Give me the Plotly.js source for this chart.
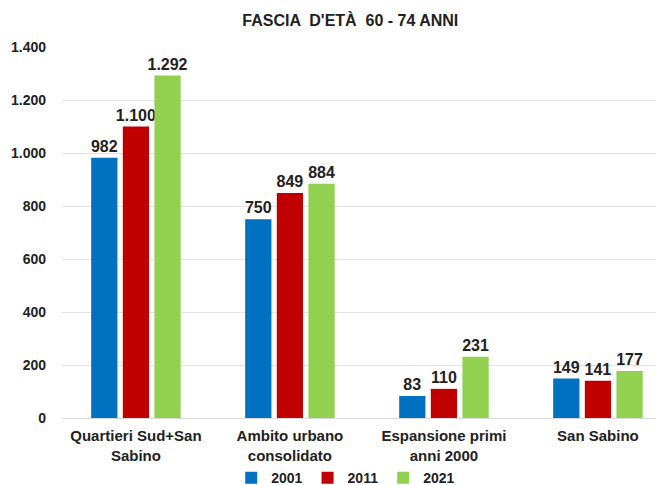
<!DOCTYPE html>
<html><head><meta charset="utf-8">
<script src="https://cdn.plot.ly/plotly-3.0.1.min.js"></script>
<style>html,body{margin:0;padding:0;background:#fff;}#chart{width:656px;height:485px;}</style>
</head><body><div id="chart"></div>
<script>
const categories = ["Quartieri Sud+San<br>Sabino", "Ambito urbano<br>consolidato", "Espansione primi<br>anni 2000", "San Sabino"];
const series = ["2001", "2011", "2021"];
const values2001 = [982, 750, 83, 149];
const values2011 = [1100, 849, 110, 141];
const values2021 = [1292, 884, 231, 177];
const colors = ["#0070C0", "#C00000", "#92D050"];
const tickVals = [0, 200, 400, 600, 800, 1000, 1200, 1400];
const tickText = ["0", "200", "400", "600", "800", "1.000", "1.200", "1.400"];

const fmt = v => v.toString().replace(/\B(?=(\d{3})+(?!\d))/g, ".");
const font = "Liberation Sans, Arial, sans-serif";
const all = [values2001, values2011, values2021];
const traces = all.map((vals, i) => ({
  type: "bar", name: "<b>" + series[i] + "</b>", x: categories, y: vals,
  marker: {color: colors[i]},
  text: vals.map(v => "<b>" + fmt(v) + "</b>"), textposition: "outside", constraintext: "none",
  textfont: {family: font, size: 16, color: "#222"}, cliponaxis: false
}));
const catsBold = categories.map(c => "<b>" + c.replace("<br>", "</b><br><b>") + "</b>");
const layout = {
  width: 656, height: 485,
  margin: {l: 62, r: 0, t: 47, b: 67},
  paper_bgcolor: "#fff", plot_bgcolor: "#fff",
  title: {text: "<b>FASCIA  D'ETÀ  60 - 74 ANNI</b>", x: 0.534, xanchor: "center", yref: "container", y: 0.958, yanchor: "middle", font: {family: font, size: 16, color: "#222"}},
  barmode: "group", bargap: 0.384, bargroupgap: 0.17,
  xaxis: {range: [-0.48, 3.377], tickvals: categories, ticktext: catsBold, showline: false, ticks: "", ticklabelstandoff: 7, tickfont: {family: font, size: 15, color: "#222"}, automargin: false},
  yaxis: {range: [0, 1400], tickvals: tickVals, ticktext: tickText.map(t => "<b>" + t + "</b>"), showgrid: true, gridcolor: "#e3e3e3", zeroline: true, zerolinecolor: "#d9d9d9", tickfont: {family: font, size: 14, color: "#222"}, ticks: "", ticklabelstandoff: 15, automargin: false},
  legend: {orientation: "h", xref: "container", yref: "container", x: 0.527, xanchor: "center", y: 0.014, yanchor: "middle", bgcolor: "rgba(0,0,0,0)", font: {family: font, size: 14, color: "#222"}, traceorder: "normal", itemwidth: 30},
  showlegend: true
};
Plotly.newPlot("chart", traces, layout, {displayModeBar: false, staticPlot: true});
</script></body></html>
